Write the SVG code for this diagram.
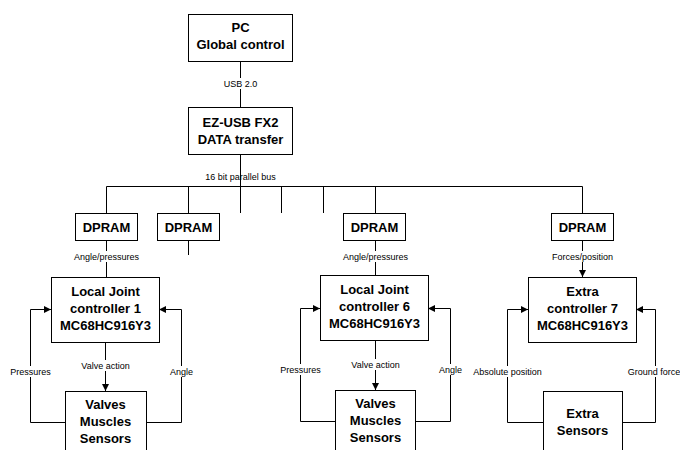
<svg xmlns="http://www.w3.org/2000/svg" width="680" height="450" viewBox="0 0 680 450">
<defs>
<style>
.box{fill:#fff;stroke:#000;stroke-width:1}
.t{font-family:"Liberation Sans",Arial,sans-serif;font-weight:bold;font-size:13px;text-anchor:middle;fill:#000}
.l{font-family:"Liberation Sans",Arial,sans-serif;font-size:9px;text-anchor:middle;fill:#000}
.c{fill:none;stroke:#000;stroke-width:1}
</style>
<marker id="ah" viewBox="0 0 8 8" refX="8" refY="4" markerWidth="7" markerHeight="7" markerUnits="userSpaceOnUse" orient="auto">
<path d="M0,0 L8,4 L0,8 z" fill="#000"/>
</marker>
</defs>
<rect width="680" height="450" fill="#fff"/>
<g id="connectors">
<path class="c" d="M240.5,61 V107"/>
<path class="c" d="M240.5,155 V186.5"/>
<path class="c" d="M106.5,186.5 H582.5"/>
<path class="c" d="M106.5,186.5 V213"/>
<path class="c" d="M188.5,186.5 V213"/>
<path class="c" d="M240.5,186.5 V213"/>
<path class="c" d="M281.5,186.5 V213"/>
<path class="c" d="M323.5,186.5 V213"/>
<path class="c" d="M375.5,186.5 V213"/>
<path class="c" d="M582.5,186.5 V213"/>
<path class="c" d="M188.5,240 V255"/>
<path class="c" d="M106.5,240 V277"/>
<path class="c" d="M375.5,240 V275"/>
<path class="c" d="M582.5,240 V277" marker-end="url(#ah)"/>
<path class="c" d="M105.5,342 V391" marker-end="url(#ah)"/>
<path class="c" d="M65,422.5 H30.5 V309.5 H51" marker-end="url(#ah)"/>
<path class="c" d="M146,422.5 H181.5 V309.5 H159" marker-end="url(#ah)"/>
<path class="c" d="M375.5,340 V390" marker-end="url(#ah)"/>
<path class="c" d="M335,421.5 H300.5 V308.5 H320" marker-end="url(#ah)"/>
<path class="c" d="M415,421.5 H450.5 V308.5 H428" marker-end="url(#ah)"/>
<path class="c" d="M543,422.5 H507.5 V309.5 H528" marker-end="url(#ah)"/>
<path class="c" d="M622,422.5 H655.5 V309.5 H636" marker-end="url(#ah)"/>
</g>
<g id="labels">
<rect x="220" y="78" width="41" height="11" fill="#fff"/>
<text class="l" x="240.5" y="87">USB 2.0</text>
<text class="l" x="240.5" y="180">16 bit parallel bus</text>
<rect x="70" y="251" width="72" height="11" fill="#fff"/>
<text class="l" x="106.5" y="260">Angle/pressures</text>
<rect x="339" y="251" width="72" height="11" fill="#fff"/>
<text class="l" x="375.5" y="260">Angle/pressures</text>
<rect x="550" y="251" width="64" height="11" fill="#fff"/>
<text class="l" x="582.5" y="260">Forces/position</text>
<rect x="77" y="360" width="56" height="11" fill="#fff"/>
<text class="l" x="105.5" y="369">Valve action</text>
<rect x="347" y="359" width="56" height="11" fill="#fff"/>
<text class="l" x="375.5" y="368">Valve action</text>
<rect x="8" y="366" width="45" height="11" fill="#fff"/>
<text class="l" x="30.5" y="375">Pressures</text>
<rect x="166" y="366" width="30" height="11" fill="#fff"/>
<text class="l" x="181.5" y="375">Angle</text>
<rect x="278" y="364" width="45" height="11" fill="#fff"/>
<text class="l" x="300.5" y="373">Pressures</text>
<rect x="435" y="364" width="30" height="11" fill="#fff"/>
<text class="l" x="450.5" y="373">Angle</text>
<rect x="471" y="366" width="73" height="11" fill="#fff"/>
<text class="l" x="507.5" y="375">Absolute position</text>
<rect x="627" y="366" width="53" height="11" fill="#fff"/>
<text class="l" x="654" y="375">Ground force</text>
</g>
<g id="pc">
<rect class="box" x="188.5" y="14.5" width="104" height="47"/>
<text class="t" x="240.5" y="32">PC</text>
<text class="t" x="240.5" y="49">Global control</text>
</g>
<g id="ezusb">
<rect class="box" x="188.5" y="107.5" width="104" height="47"/>
<text class="t" x="240.5" y="127">EZ-USB FX2</text>
<text class="t" x="240.5" y="144">DATA transfer</text>
</g>
<g id="dpram1">
<rect class="box" x="75.5" y="213.5" width="62" height="27"/>
<text class="t" x="106.5" y="232">DPRAM</text>
</g>
<g id="dpram2">
<rect class="box" x="157.5" y="213.5" width="62" height="27"/>
<text class="t" x="188.5" y="232">DPRAM</text>
</g>
<g id="dpram3">
<rect class="box" x="343.5" y="213.5" width="62" height="27"/>
<text class="t" x="374.5" y="232">DPRAM</text>
</g>
<g id="dpram4">
<rect class="box" x="551.5" y="213.5" width="62" height="27"/>
<text class="t" x="582.5" y="232">DPRAM</text>
</g>
<g id="ljc1">
<rect class="box" x="51.5" y="277.5" width="108" height="65"/>
<text class="t" x="105.5" y="296">Local Joint</text>
<text class="t" x="105.5" y="313">controller 1</text>
<text class="t" x="105.5" y="330">MC68HC916Y3</text>
</g>
<g id="ljc6">
<rect class="box" x="320.5" y="275.5" width="108" height="65"/>
<text class="t" x="374.5" y="294">Local Joint</text>
<text class="t" x="374.5" y="311">controller 6</text>
<text class="t" x="374.5" y="328">MC68HC916Y3</text>
</g>
<g id="extra7">
<rect class="box" x="528.5" y="277.5" width="108" height="65"/>
<text class="t" x="582.5" y="296">Extra</text>
<text class="t" x="582.5" y="313">controller 7</text>
<text class="t" x="582.5" y="330">MC68HC916Y3</text>
</g>
<g id="vms1">
<rect class="box" x="65.5" y="391.5" width="81" height="65"/>
<text class="t" x="105.5" y="409">Valves</text>
<text class="t" x="105.5" y="426">Muscles</text>
<text class="t" x="105.5" y="443">Sensors</text>
</g>
<g id="vms6">
<rect class="box" x="335.5" y="390.5" width="80" height="65"/>
<text class="t" x="375.5" y="408">Valves</text>
<text class="t" x="375.5" y="425">Muscles</text>
<text class="t" x="375.5" y="442">Sensors</text>
</g>
<g id="extrasensors">
<rect class="box" x="543.5" y="391.5" width="79" height="65"/>
<text class="t" x="582.5" y="418">Extra</text>
<text class="t" x="582.5" y="435">Sensors</text>
</g>
</svg>
